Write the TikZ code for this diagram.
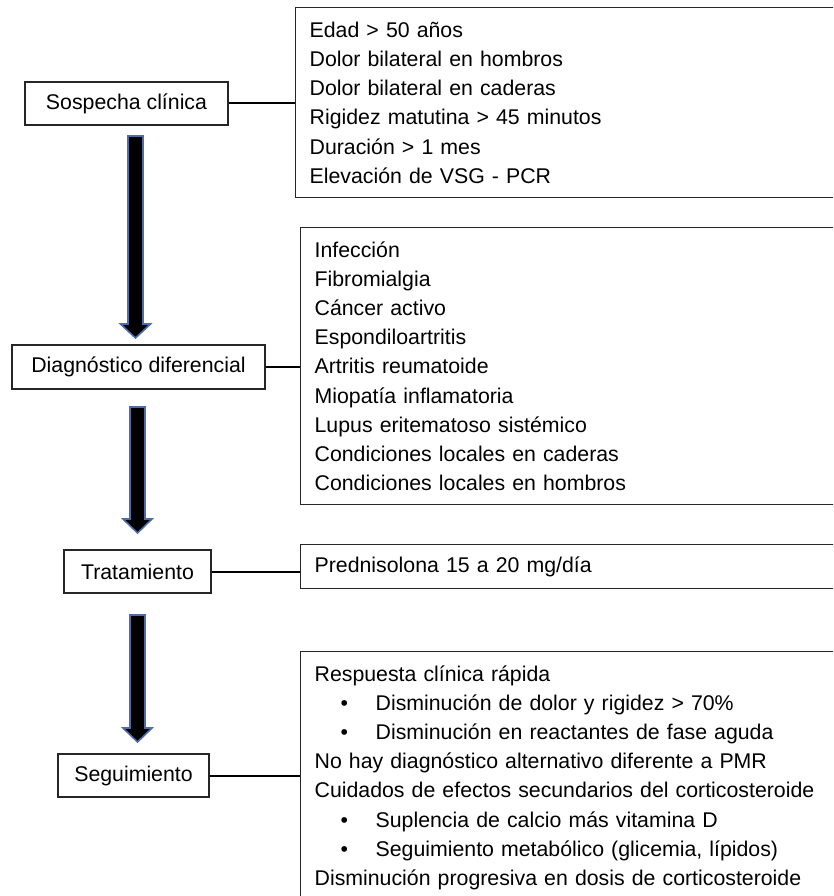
\documentclass[tikz,border=0pt]{standalone}
\usepackage{fontspec}
\setmainfont{Liberation Sans}
\usepackage{tikz}
\usetikzlibrary{calc}
\definecolor{bordeflecha}{RGB}{79,107,170}
\def\itm#1{\hspace*{26pt}\makebox[35pt][l]{\textbullet}#1}
\tikzset{
	etapa/.style={draw=black!85,line width=1.3pt,fill=white,inner sep=0pt,font=\fontsize{21.3}{29.2}\selectfont},
	lista/.style={draw=black!85,line width=1.3pt,fill=white,anchor=north west,align=left,text width=560pt,inner xsep=14pt,inner ysep=0pt,font=\fontsize{21.3}{29.2}\selectfont},
	enlace/.style={line width=2pt,black},
	flecha/.style={fill=black,draw=bordeflecha,line width=1.6pt,line join=miter}
}

\begin{document}
\begin{tikzpicture}[x=1pt,y=-1pt]
				%%%%% START %%%%%
				\def\anchoimg{833}
				\def\altoimg{896}
				\def\hh{14}
				\useasboundingbox (0,0) rectangle (\anchoimg,\altoimg);
				\clip (0,0) rectangle (\anchoimg,\altoimg);

				% etapas
				\node[etapa,minimum width=203pt,minimum height=43pt] (sospecha) at (126.5,103.5) {Sospecha clínica};
				\node[etapa,minimum width=253pt,minimum height=44pt] (diagnostico) at (138.5,367) {Diagnóstico diferencial};
				\node[etapa,minimum width=147pt,minimum height=43pt] (tratamiento) at (137.5,571.5) {Tratamiento};
				\node[etapa,minimum width=151pt,minimum height=43pt] (seguimiento) at (133.5,775.5) {Seguimiento};

				% listas
				\node[lista,minimum height=190pt] (criterios) at (295,7) {Edad > 50 años\\Dolor bilateral en hombros\\Dolor bilateral en caderas\\Rigidez matutina > 45 minutos\\Duración > 1 mes\\Elevación de VSG - PCR};
				\node[lista,minimum height=277pt] (diferencial) at (300,227) {Infección\\Fibromialgia\\Cáncer activo\\Espondiloartritis\\Artritis reumatoide\\Miopatía inflamatoria\\Lupus eritematoso sistémico\\Condiciones locales en caderas\\Condiciones locales en hombros};
				\node[lista,minimum height=44pt] (prednisolona) at (300,544) {Prednisolona 15 a 20 mg/día};
				\node[lista,minimum height=252pt] (respuesta) at (300,651) {Respuesta clínica rápida\\\itm{Disminución de dolor y rigidez > 70\%}\\\itm{Disminución en reactantes de fase aguda}\\No hay diagnóstico alternativo diferente a PMR\\Cuidados de efectos secundarios del corticosteroide\\\itm{Suplencia de calcio más vitamina D}\\\itm{Seguimiento metabólico (glicemia, lípidos)}\\Disminución progresiva en dosis de corticosteroide};

				\draw[enlace] (sospecha.east) -- (sospecha.east -| criterios.west);
				\draw[enlace] (diagnostico.east) -- (diagnostico.east -| diferencial.west);
				\draw[enlace] (tratamiento.east) -- (tratamiento.east -| prednisolona.west);
				\draw[enlace] (seguimiento.east) -- (seguimiento.east -| respuesta.west);

				% flechas
				\foreach \xa/\ya/\yb/\hw in {135.5/136/338/15, 137.5/407/533/14.5, 137.5/615/742/14.5}{
					\draw[flecha] (\xa-7.5,\ya) -- (\xa+7.5,\ya) -- (\xa+7.5,\yb-\hh) -- (\xa+\hw,\yb-\hh) -- (\xa,\yb) -- (\xa-\hw,\yb-\hh) -- (\xa-7.5,\yb-\hh) -- cycle;
				}
				%%%%% START %%%%%
			\end{tikzpicture}
\end{document}
